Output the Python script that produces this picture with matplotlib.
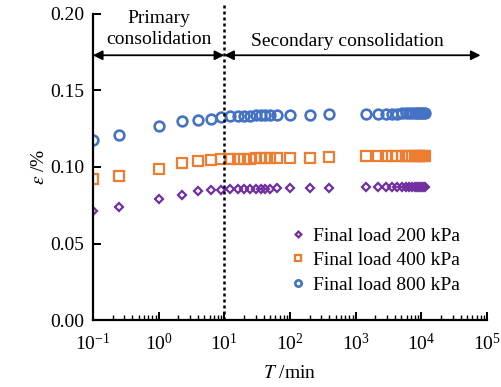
import numpy as np
import matplotlib
matplotlib.use("Agg")
import matplotlib.pyplot as plt
from matplotlib.ticker import LogLocator, NullFormatter, MultipleLocator, FormatStrFormatter

plt.rcParams['font.family'] = ['Liberation Serif', 'DejaVu Serif']
plt.rcParams['mathtext.fontset'] = 'stix'
plt.rcParams['font.size'] = 14

# elapsed time of each reading, min
t = [0.1, 0.25, 1, 2.25, 4, 6.25, 9, 12.25, 16, 20.25, 25, 30.25, 36, 42.25, 49, 64,
     100, 200, 400,
     1440, 2160, 2880, 3600, 4320, 5040, 5760, 6480, 7200, 7920, 8640, 9360, 10080, 10800, 11520]

# strain, %
eps_200 = [0.0715, 0.0740, 0.0789, 0.0817, 0.0841, 0.0848, 0.0852, 0.0854, 0.0855, 0.0856,
           0.0857, 0.0857, 0.0858, 0.0859, 0.0859, 0.0860, 0.0861, 0.0862, 0.0863,
           0.0868, 0.0869, 0.0869, 0.0870, 0.0870, 0.0870, 0.0871, 0.0871, 0.0871, 0.0871,
           0.0871, 0.0872, 0.0872, 0.0872, 0.0872]
eps_400 = [0.0919, 0.0939, 0.0985, 0.1028, 0.1041, 0.1044, 0.1050, 0.1052, 0.1053, 0.1054,
           0.1055, 0.1056, 0.1056, 0.1057, 0.1057, 0.1058, 0.1060, 0.1062, 0.1063,
           0.1069, 0.1070, 0.1070, 0.1071, 0.1071, 0.1072, 0.1072, 0.1072, 0.1073, 0.1073,
           0.1073, 0.1073, 0.1074, 0.1074, 0.1074]
eps_800 = [0.1176, 0.1211, 0.1270, 0.1298, 0.1307, 0.1314, 0.1329, 0.1333, 0.1334, 0.1335,
           0.1336, 0.1337, 0.1338, 0.1338, 0.1339, 0.1340, 0.1342, 0.1342, 0.1343,
           0.1347, 0.1348, 0.1348, 0.1349, 0.1349, 0.1350, 0.1350, 0.1350, 0.1350, 0.1351,
           0.1351, 0.1351, 0.1351, 0.1351, 0.1351]

fig = plt.figure(figsize=(5.02, 3.87), dpi=100)
ax = fig.add_axes([0.185, 0.173, 0.785, 0.791])

ax.plot(t, eps_200, ls='none', marker='D', ms=4.5, mfc='none', mec='#7030A0', mew=1.6,
        label='Final load 200 kPa')
ax.plot(t, eps_400, ls='none', marker='s', ms=7, mfc='none', mec='#ED7D31', mew=1.6,
        label='Final load 400 kPa')
ax.plot(t, eps_800, ls='none', marker='o', ms=7, mfc='none', mec='#4472C4', mew=1.9,
        label='Final load 800 kPa')

ax.set_xscale('log')
ax.set_xlim(0.1, 1e5)
ax.set_ylim(0, 0.20)
ax.yaxis.set_major_locator(MultipleLocator(0.05))
ax.yaxis.set_major_formatter(FormatStrFormatter('%.2f'))
ax.xaxis.set_major_locator(LogLocator(base=10, numticks=10))
ax.xaxis.set_minor_locator(LogLocator(base=10, subs=np.arange(2, 10), numticks=20))
ax.xaxis.set_minor_formatter(NullFormatter())

for s in ['top', 'right']:
    ax.spines[s].set_visible(False)
for s in ['left', 'bottom']:
    ax.spines[s].set_linewidth(1.6)
ax.tick_params(which='major', direction='in', length=6, width=1.4, pad=6)
ax.tick_params(axis='x', which='major', pad=9)
ax.tick_params(which='minor', direction='in', length=3.5, width=1.0)
ax.tick_params(axis='y', which='minor', left=False)

# boundary between primary and secondary consolidation
ax.plot([10, 10], [0, 0.206], ls=(0, (1.2, 1.2)), color='k', lw=1.8, clip_on=False)

arrow = dict(arrowstyle='<|-|>', color='k', lw=1.3, mutation_scale=14, shrinkA=0, shrinkB=0)
ax.annotate('', xy=(0.1, 0.173), xytext=(10, 0.173), arrowprops=arrow)
ax.annotate('', xy=(10, 0.173), xytext=(8e4, 0.173), arrowprops=arrow)
ax.text(1, 0.190, 'Primary\nconsolidation', ha='center', va='center', linespacing=1.3)
ax.text(760, 0.182, 'Secondary consolidation', ha='center', va='center')

ax.set_xlabel('$T$ /min', labelpad=8)
ax.set_ylabel(r'$\varepsilon$ /%', labelpad=2)

ax.legend(loc='center left', bbox_to_anchor=(0.475, 0.195), frameon=False, markerscale=0.65,
          handletextpad=0.3, borderaxespad=0.0, labelspacing=0.35, handlelength=1.0)

fig.savefig('out.png', dpi=100)
